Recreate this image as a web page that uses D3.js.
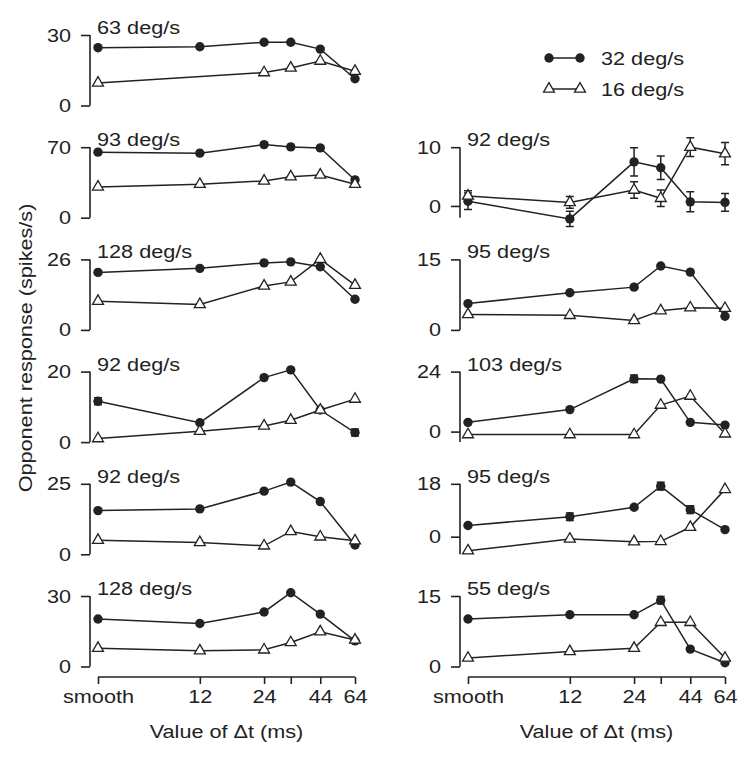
<!DOCTYPE html>
<html>
<head>
<meta charset="utf-8">
<script src="https://cdn.jsdelivr.net/npm/d3@7"></script>
<style>
  html, body { margin: 0; padding: 0; background: #fff; }
  svg text { font-family: "Liberation Sans", Arial, Helvetica, sans-serif; fill: #222; }
</style>
</head>
<body>
<svg id="chart" width="750" height="758"></svg>
<script>
// ---------- DATA ----------
const xValues = [4, 12, 24, 32, 44, 64];          // "smooth" drawn at 4 ms on log axis
const xTickLabels = ["smooth", "12", "24", "", "44", "64"];
const seriesNames = ["32 deg/s", "16 deg/s"];

// Left column (rows 0..5)
const leftLabels = ["63 deg/s", "93 deg/s", "128 deg/s", "92 deg/s", "92 deg/s", "128 deg/s"];
const leftYMax   = [30, 70, 26, 20, 25, 30];
const leftYMin   = [0, 0, 0, 0, 0, 0];
const left32 = [
  [24.6, 25.0, 26.9, 26.9, 24.0, 11.4],
  [65.1, 64.1, 72.6, 70.3, 69.3, 37.5],
  [21.2, 22.7, 24.7, 25.1, 23.3, 11.3],
  [11.6, 5.5, 18.3, 20.5, 9.1, 2.7],
  [15.5, 16.1, 22.4, 25.6, 18.7, 3.3],
  [20.2, 18.3, 23.2, 31.4, 22.3, 10.9]
];
const left16 = [
  [9.6, null, 14.0, 16.0, 18.9, 14.6],
  [30.6, 33.2, 36.5, 40.7, 42.4, 33.2],
  [10.6, 9.4, 16.2, 17.7, 26.1, 16.5],
  [1.0, 3.1, 4.6, 6.2, 9.1, 12.2],
  [5.0, 4.2, 3.0, 8.1, 6.2, 4.8],
  [7.8, 6.7, 7.1, 10.2, 14.8, 11.3]
];
const left32Err = [
  [0, 0, 0, 0, 0, 0],
  [0, 0, 0, 0, 0, 0],
  [0, 0, 0, 0, 0, 0],
  [1.0, 0, 0, 0, 0, 1.0],
  [0, 0, 0, 0, 0, 0],
  [0, 0, 0, 0, 0, 0]
];
const left16Err = [
  [0, 0, 0, 0, 0, 0],
  [0, 0, 0, 0, 0, 0],
  [0, 0, 0, 0, 0, 0],
  [0, 0, 0, 0, 0, 0],
  [0, 0, 0, 0, 0, 0],
  [0, 0, 0, 0, 0, 0]
];

// Right column (rows 1..5)
const rightLabels = ["92 deg/s", "95 deg/s", "103 deg/s", "95 deg/s", "55 deg/s"];
const rightYMax   = [10, 15, 24, 18, 15];
const rightYMin   = [-2, 0, -4.2, -6, 0];
const right32 = [
  [0.8, -2.2, 7.5, 6.5, 0.7, 0.6],
  [5.6, 7.9, 9.1, 13.6, 12.3, 2.9],
  [3.7, 8.8, 21.1, 21.0, 3.7, 2.6],
  [3.8, 6.8, 10.0, 17.2, 9.2, 2.4],
  [10.1, 11.0, 11.0, 14.1, 3.7, 0.8]
];
const right16 = [
  [1.7, 0.6, 2.7, 1.3, 10.0, 8.9],
  [3.3, 3.1, 2.0, 4.1, 4.7, 4.6],
  [-1.2, -1.2, -1.2, 10.6, 14.2, -0.9],
  [-4.8, -0.8, -1.7, -1.6, 3.2, 16.1],
  [1.8, 3.2, 3.9, 9.4, 9.4, 1.8]
];
const right32Err = [
  [1.4, 1.3, 2.4, 2.0, 1.7, 1.5],
  [0, 0, 0, 0, 0, 0],
  [0, 0, 1.5, 0, 0, 0],
  [0, 1.3, 0, 1.3, 1.3, 0],
  [0, 0, 0, 0.8, 0, 0]
];
const right16Err = [
  [0.9, 1.0, 1.4, 1.4, 1.6, 1.9],
  [0, 0, 0, 0, 0, 0],
  [0, 0, 0, 0, 0, 0],
  [0, 0, 0, 0, 0, 0],
  [0, 0, 0, 0, 0, 0]
];

// ---------- LAYOUT ----------
const svg = d3.select("#chart");
const ink = "#222";
const rowTop = i => 35 + i * 112.2;
const rowH = 70.5;
const cols = [
  { axisX: 90, x0: 98, x1: 355 },
  { axisX: 460, x0: 468, x1: 725 }
];
const xAxisY = 677;
const fontSize = 19;
const sx = 1.14;   // horizontal widening of the lettering

// place a text at (x,y) widened horizontally
function wideText(parent, x, y, str, anchor, extra) {
  return parent.append("text")
    .attr("transform", `translate(${x},${y})${extra || ""} scale(${sx},1)`)
    .attr("text-anchor", anchor || "start")
    .attr("font-size", fontSize)
    .text(str);
}

const panels = [];
leftLabels.forEach((lab, i) => panels.push({
  col: 0, row: i, label: lab, yMax: leftYMax[i], yMin: leftYMin[i],
  s32: left32[i], s16: left16[i], e32: left32Err[i], e16: left16Err[i]
}));
rightLabels.forEach((lab, i) => panels.push({
  col: 1, row: i + 1, label: lab, yMax: rightYMax[i], yMin: rightYMin[i],
  s32: right32[i], s16: right16[i], e32: right32Err[i], e16: right16Err[i]
}));

const triPath = d3.symbol().type(d3.symbolTriangle).size(52)();

panels.forEach(p => {
  const c = cols[p.col];
  const x = d3.scaleLog().base(2).domain([4, 64]).range([c.x0, c.x1]);
  const top = rowTop(p.row);
  const y = d3.scaleLinear().domain([p.yMin, p.yMax]).range([top + rowH, top]);
  const g = svg.append("g");

  // y axis
  const ax = d3.axisLeft(y).tickValues([0, p.yMax]).tickSize(9).tickPadding(10).tickFormat(d3.format("d"));
  const axG = g.append("g").attr("transform", `translate(${c.axisX},0)`).call(ax);
  axG.select(".domain").attr("d", `M0,${y(p.yMax)}V${y(p.yMin)}`).attr("stroke", ink).attr("stroke-width", 1.6);
  axG.selectAll(".tick line").attr("stroke", ink).attr("stroke-width", 1.6);
  axG.selectAll(".tick text").attr("font-size", fontSize).attr("fill", ink)
     .attr("font-family", "Liberation Sans, Arial, sans-serif")
     .attr("transform", `translate(-19,0) scale(${sx},1)`).attr("x", 0);

  // panel label
  wideText(g, c.axisX + 7, top - 1, p.label);

  const line = d3.line().defined(d => d.v !== null).x(d => x(d.x)).y(d => y(d.v));
  const d32 = xValues.map((xv, k) => ({ x: xv, v: p.s32[k], e: p.e32[k] }));
  const d16 = xValues.map((xv, k) => ({ x: xv, v: p.s16[k], e: p.e16[k] })).filter(d => d.v !== null);

  [d32, d16].forEach(data => {
    g.append("path").datum(data).attr("d", line).attr("fill", "none")
      .attr("stroke", ink).attr("stroke-width", 1.5);
  });

  // error bars
  [d32, d16].forEach(data => {
    data.filter(d => d.e > 0).forEach(d => {
      const cx = x(d.x), yt = y(d.v + d.e), yb = y(d.v - d.e);
      g.append("path").attr("d", `M${cx},${yt}V${yb}M${cx - 4},${yt}H${cx + 4}M${cx - 4},${yb}H${cx + 4}`)
        .attr("stroke", ink).attr("stroke-width", 1.5).attr("fill", "none");
    });
  });

  // markers
  g.selectAll("circle.m32").data(d32).join("circle").attr("class", "m32")
    .attr("cx", d => x(d.x)).attr("cy", d => y(d.v)).attr("r", 4.7).attr("fill", ink);
  g.selectAll("path.m16").data(d16).join("path").attr("class", "m16")
    .attr("d", triPath)
    .attr("transform", d => `translate(${x(d.x)},${y(d.v)})`)
    .attr("fill", "#fff").attr("stroke", ink).attr("stroke-width", 1.3);
});

// x axes
cols.forEach(c => {
  const x = d3.scaleLog().base(2).domain([4, 64]).range([c.x0, c.x1]);
  const xa = d3.axisBottom(x).tickValues(xValues).tickSize(7).tickPadding(6)
    .tickFormat((d, i) => xTickLabels[i]);
  const g = svg.append("g").attr("transform", `translate(0,${xAxisY})`).call(xa);
  g.select(".domain").attr("d", `M${c.x0},0H${c.x1}`).attr("stroke", ink).attr("stroke-width", 1.6);
  g.selectAll(".tick line").attr("stroke", ink).attr("stroke-width", 1.6);
  g.selectAll(".tick text").attr("font-size", fontSize).attr("fill", ink)
    .attr("font-family", "Liberation Sans, Arial, sans-serif")
    .attr("transform", `scale(${sx},1)`)
    .attr("x", 0);
  wideText(svg, (c.x0 + c.x1) / 2, 738, "Value of \u0394t (ms)", "middle");
});

// y title
wideText(svg, 32, 348, "Opponent response (spikes/s)", "middle", " rotate(-90)");

// legend
const leg = svg.append("g");
[0, 1].forEach(i => {
  const ly = 58 + i * 31;
  leg.append("line").attr("x1", 549).attr("x2", 580).attr("y1", ly).attr("y2", ly)
    .attr("stroke", ink).attr("stroke-width", 1.5);
  [549, 580].forEach(lx => {
    if (i === 0) leg.append("circle").attr("cx", lx).attr("cy", ly).attr("r", 4.7).attr("fill", ink);
    else leg.append("path").attr("d", triPath).attr("transform", `translate(${lx},${ly})`)
      .attr("fill", "#fff").attr("stroke", ink).attr("stroke-width", 1.3);
  });
  wideText(leg, 601, ly + 7, seriesNames[i]);
});
</script>
</body>
</html>
